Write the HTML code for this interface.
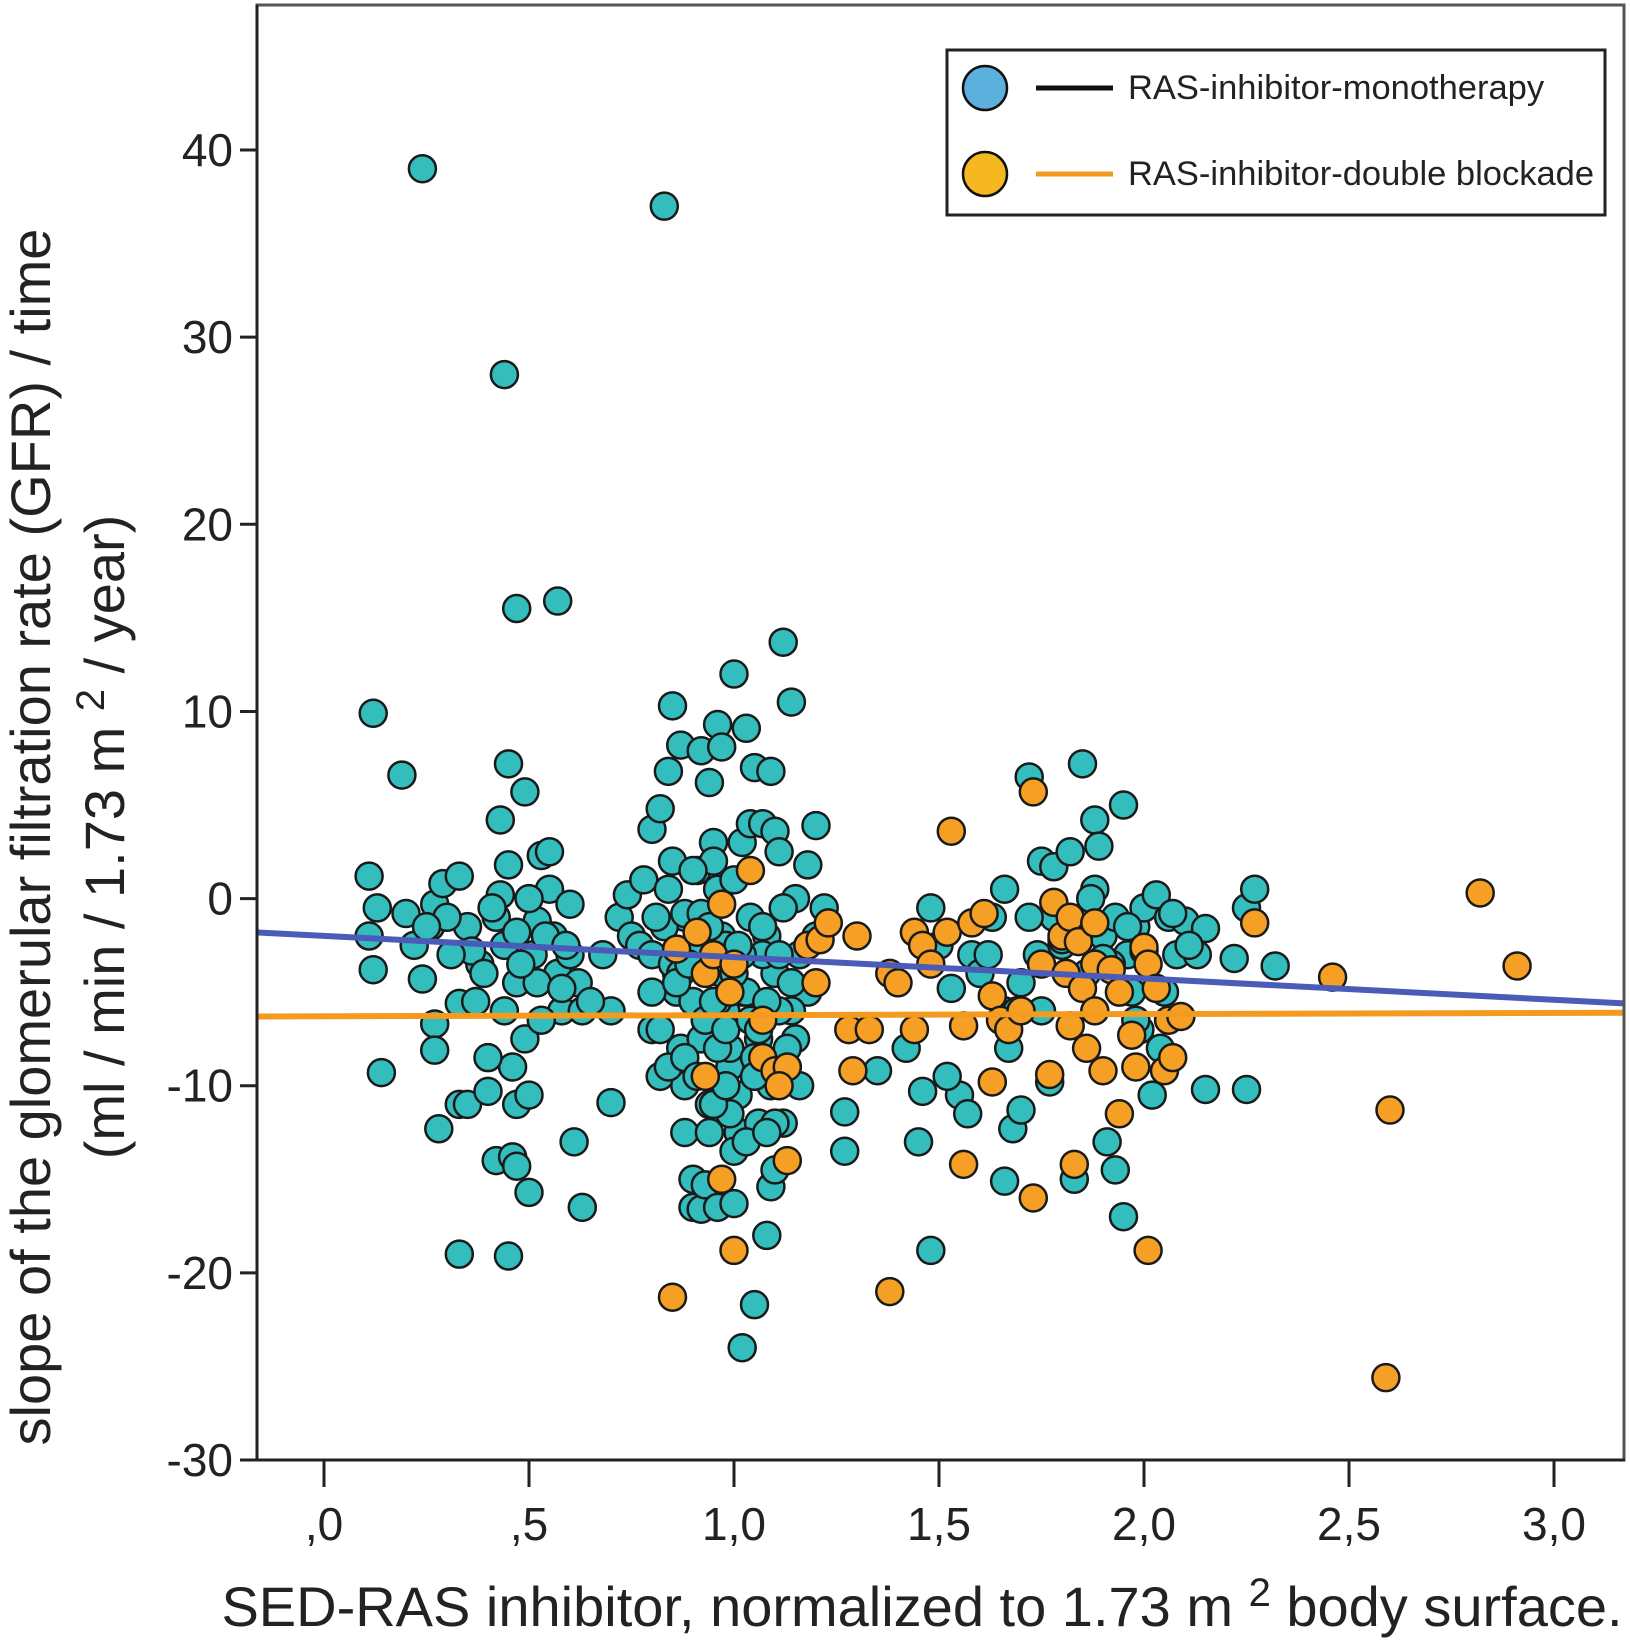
<!DOCTYPE html>
<html><head><meta charset="utf-8"><style>
body{margin:0;background:#fff;}
svg{display:block;font-family:"Liberation Sans",Arial,sans-serif;}
</style></head><body>
<svg id="chart" width="1630" height="1640" viewBox="0 0 1630 1640">
<rect x="0" y="0" width="1630" height="1640" fill="#fff"/>
<g id="plot" clip-path="url(#clip)"></g>
<clipPath id="clip"><rect x="258" y="6" width="1366" height="1453"/></clipPath>
<rect x="257" y="5" width="1367" height="1455" fill="none" stroke="#555" stroke-width="3"/>
<line x1="257" y1="1460" x2="1625" y2="1460" stroke="#222" stroke-width="3"/>
<line x1="257" y1="5" x2="257" y2="1460" stroke="#222" stroke-width="3"/>
<g id="axes"></g>
<text x="922" y="1626" font-size="56" text-anchor="middle" fill="#222">SED-RAS inhibitor, normalized to 1.73 m <tspan font-size="40" dy="-20">2</tspan><tspan dy="20"> body surface.</tspan></text>
<text transform="translate(50,837) rotate(-90)" font-size="56" text-anchor="middle" fill="#222">slope of the glomerular filtration rate  (GFR) / time</text>
<text transform="translate(124,837) rotate(-90)" font-size="56" text-anchor="middle" fill="#222">(ml / min / 1.73 m <tspan font-size="40" dy="-20">2</tspan><tspan dy="20"> / year)</tspan></text>
<g>
<rect x="947" y="50" width="658" height="165" fill="#fff" stroke="#222" stroke-width="3"/>
<circle cx="985" cy="88" r="22" fill="#5bb0dd" stroke="#111" stroke-width="2.5"/>
<line x1="1036" y1="88" x2="1113" y2="88" stroke="#111" stroke-width="5"/>
<text x="1128" y="99" font-size="34.5" fill="#222">RAS-inhibitor-monotherapy</text>
<circle cx="985" cy="174" r="22" fill="#f5b820" stroke="#111" stroke-width="2.5"/>
<line x1="1036" y1="174" x2="1113" y2="174" stroke="#f39a1f" stroke-width="5"/>
<text x="1128" y="185" font-size="34.5" fill="#222">RAS-inhibitor-double blockade</text>
</g>
</svg>
<script>
const xTicks=[0,0.5,1,1.5,2,2.5,3];
const xTickLabels=[",0",",5","1,0","1,5","2,0","2,5","3,0"];
const yTicks=[-30,-20,-10,0,10,20,30,40];
const yTickLabels=["-30","-20","-10","0","10","20","30","40"];
const monoX=[0.24,0.83,0.44,0.47,0.57,0.12,0.19,0.45,0.49,0.43,0.11,0.13,0.11,0.12,0.14,0.2,0.22,0.24,0.26,0.27,0.29,0.27,0.27,0.28,0.33,0.33,0.35,0.33,0.33,0.35,0.38,0.4,0.42,0.43,0.44,0.45,0.46,0.47,0.42,0.46,0.47,0.5,0.45,0.5,0.51,0.52,0.53,0.55,0.55,0.56,0.57,0.58,0.6,0.6,0.62,0.63,0.61,0.63,0.68,0.7,0.7,0.72,0.74,0.75,0.77,0.8,0.8,0.8,0.82,0.82,0.84,0.85,0.87,0.88,0.86,0.87,0.88,0.88,0.9,0.9,0.92,0.93,0.96,0.94,0.92,0.94,0.96,0.97,0.95,0.96,0.97,0.97,0.98,0.99,0.97,1.0,1.03,1.05,1.09,1.12,1.14,1.02,1.04,1.07,1.1,1.11,1.15,1.2,1.18,1.01,1.0,1.0,1.02,1.05,1.08,1.09,1.1,1.06,1.12,1.13,1.16,1.15,1.18,1.2,1.22,1.27,1.27,1.35,1.46,1.48,1.55,1.48,1.5,1.53,1.58,1.6,1.63,1.66,1.66,1.67,1.68,1.7,1.66,1.72,1.75,1.78,1.74,1.75,1.78,1.8,1.82,1.85,1.88,1.89,1.88,1.86,1.9,1.93,1.95,1.96,1.97,1.99,1.91,1.93,1.95,1.83,1.98,2.0,2.02,2.04,2.05,2.06,2.08,2.1,2.13,2.15,2.15,2.22,2.25,2.25,2.27,2.32,
0.3,0.36,0.39,0.41,0.44,0.47,0.49,0.52,0.54,0.58,0.4,0.48,0.5,0.37,0.31,0.25,0.47,0.53,0.59,0.65,
0.78,0.8,0.83,0.85,0.86,0.88,0.9,0.91,0.93,0.95,0.98,1.0,1.02,1.04,1.06,1.08,1.1,1.12,1.14,1.16,0.82,0.84,0.89,0.92,0.94,0.96,0.99,1.01,1.03,1.05,1.07,1.09,1.11,1.13,0.81,0.85,0.87,0.9,0.93,0.96,0.99,1.02,1.05,1.08,1.11,1.14,0.84,0.88,0.91,0.95,0.98,1.01,1.04,1.07,1.1,0.86,0.89,0.92,0.95,0.98,1.03,1.06,0.9,0.94,1.0,1.08,
1.42,1.45,1.52,1.57,1.62,1.7,1.72,1.77,1.84,1.87,1.92,1.96,2.0,2.03,2.07,2.11,1.98,1.9,1.8,1.69];
const monoY=[39,37,28,15.5,15.9,9.9,6.6,7.2,5.7,4.2,1.2,-0.5,-2,-3.8,-9.3,-0.8,-2.5,-4.3,-1.5,-0.3,0.8,-6.7,-8.1,-12.3,-5.6,-11,-11,-19,1.2,-1.5,-3.5,-10.3,-1,0.2,-2.5,1.8,-9,-11,-14,-13.8,-14.3,-15.7,-19.1,-10.5,-3,-1.2,2.3,2.5,0.5,-2,-4,-6,-0.3,-3,-4.5,-6,-13,-16.5,-3,-10.9,-6,-1,0.2,-2,-2.5,3.7,-3,-7,-9.5,4.8,6.8,10.3,8.2,-1,-5,-8,-10,-12.5,-15,-16.5,-16.6,-15.3,-16.5,-12.5,7.9,6.2,9.3,8.1,3,0.5,-2,-4,-6,-9,-10.8,12,9.1,7,6.8,13.7,10.5,3,4,4,3.6,2.5,0,3.9,1.8,-12.5,-13.5,-16.3,-24,-21.7,-18,-15.4,-14.5,-12,-12,-9,-10,-7.5,-5,-2,-0.5,-11.4,-13.5,-9.2,-10.3,-18.8,-10.5,-0.5,-2.5,-4.8,-3,-4,-1,0.5,-6,-8,-12.3,-11.3,-15.1,6.5,2,1.7,-3,-6,-1,-2.5,2.5,7.2,4.2,2.8,0.5,-4,-2,-1,5,-3,-5,-7,-13,-14.5,-17,-15,-1.5,-0.5,-10.5,-8,-5,-1,-3,-1.2,-3,-1.6,-10.2,-3.2,-10.2,-0.5,0.5,-3.6,
-1,-2.8,-4,-0.5,-6,-4.5,-7.5,-4.5,-2,-4.8,-8.5,-3.5,0,-5.5,-3,-1.5,-1.8,-6.5,-2.5,-5.5,
1,-5,-1.5,2,-4,-0.8,-3,1.5,-6.5,2,-2.5,1,-5,-1,-7.5,-2,-4,-0.5,-6,-3,-7,-9,-3.5,-7.5,-11,-5.5,-8,-10.5,-5,-8.5,-3,-10,-6,-8,-1,-3.5,-4,-5.5,-6.5,-8,-11.5,-3,-9.5,-5.5,-3,-4.5,0.5,-8.5,-9.5,-11,-7,-2.5,-6.5,-1.5,-12,-4.5,-3.5,-0.8,-5.5,-10,-13,-7,1.5,-1.5,-4,-12.5,-8,-13,-9.5,-11.5,
-3,-4.5,-1,-9.8,-2,0,-3.5,-1.5,-2.8,0.2,-0.8,-2.5,-6.5,-3.2,-2.2,-6,-9.5,-6.8,-4.2,-5.5];
const dblX=[0.86,0.91,0.93,0.95,0.97,0.99,1.0,1.04,1.07,1.07,1.1,1.13,1.11,1.13,0.93,0.97,1.0,0.85,1.18,1.21,1.23,1.2,1.3,1.28,1.33,1.29,1.38,1.4,1.38,1.44,1.44,1.46,1.48,1.52,1.53,1.56,1.58,1.61,1.63,1.56,1.63,1.65,1.67,1.7,1.73,1.73,1.75,1.77,1.78,1.8,1.81,1.82,1.82,1.84,1.85,1.86,1.83,1.88,1.88,1.88,1.9,1.92,1.94,1.94,1.97,1.98,2.0,2.01,2.03,2.05,2.06,2.01,2.07,2.09,2.27,2.46,2.6,2.59,2.82,2.91];
const dblY=[-2.7,-1.8,-4,-3,-0.3,-5,-3.5,1.5,-6.5,-8.5,-9.2,-9,-10,-14,-9.5,-15,-18.8,-21.3,-2.5,-2.2,-1.3,-4.5,-2,-7,-7,-9.2,-4,-4.5,-21,-1.8,-7,-2.5,-3.5,-1.8,3.6,-6.8,-1.3,-0.8,-5.2,-14.2,-9.8,-6.5,-7,-6,5.7,-16,-3.5,-9.4,-0.2,-2,-4,-6.8,-1,-2.3,-4.8,-8,-14.2,-1.3,-3.5,-6,-9.2,-3.8,-5,-11.5,-7.3,-9,-2.6,-3.5,-4.8,-9.2,-6.5,-18.8,-8.5,-6.3,-1.3,-4.2,-11.3,-25.6,0.3,-3.6];
const fitX=[-0.17,3.17];
const monoFitY=[-1.8,-5.6];
const dblFitY=[-6.3,-6.1];

const NS="http://www.w3.org/2000/svg";
function sx(v){return 324+410*v;}
function sy(v){return 1460-(v+30)*18.714;}
const plot=document.getElementById('plot');
const axes=document.getElementById('axes');
function mk(tag,attrs,parent){const e=document.createElementNS(NS,tag);for(const k in attrs)e.setAttribute(k,attrs[k]);parent.appendChild(e);return e;}

xTicks.forEach((t,i)=>{
  const l=mk('line',{x1:sx(t),x2:sx(t),y1:1460,y2:1487,stroke:'#222','stroke-width':3},axes);
  
  
  const tx=mk('text',{x:sx(t),y:1540,'font-size':46,'text-anchor':'middle',fill:'#222'},axes);
  tx.textContent=xTickLabels[i];
  
  
});
yTicks.forEach((t,i)=>{
  const l=mk('line',{x1:240,x2:257,y1:sy(t),y2:sy(t),stroke:'#222','stroke-width':3},axes);
  
  
  const tx=mk('text',{x:233,y:sy(t)+16,'font-size':46,'text-anchor':'end',fill:'#222'},axes);
  tx.textContent=yTickLabels[i];
  
  
});
monoX.forEach((x,i)=>{
  const c=mk('circle',{cx:sx(x),cy:sy(monoY[i]),r:13.5,fill:'#33bdbd',stroke:'#1a1a1a','stroke-width':2.5},plot);
  
  
});
dblX.forEach((x,i)=>{
  const c=mk('circle',{cx:sx(x),cy:sy(dblY[i]),r:13.5,fill:'#f5a024',stroke:'#1a1a1a','stroke-width':2.5},plot);
  
  
});
const l1=mk('line',{x1:sx(fitX[0]),y1:sy(monoFitY[0]),x2:sx(fitX[1]),y2:sy(monoFitY[1]),stroke:'#4a5bb8','stroke-width':6},plot);


const l2=mk('line',{x1:sx(fitX[0]),y1:sy(dblFitY[0]),x2:sx(fitX[1]),y2:sy(dblFitY[1]),stroke:'#f39a1f','stroke-width':6},plot);


</script>
</body></html>
